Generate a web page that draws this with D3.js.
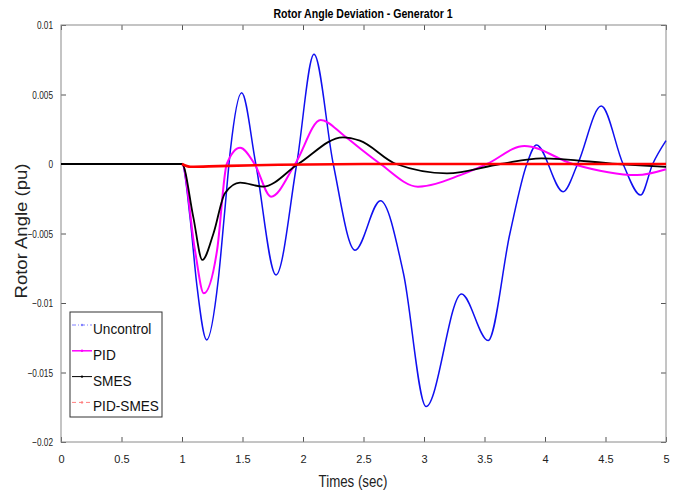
<!DOCTYPE html>
<html>
<head>
<meta charset="utf-8">
<script src="https://cdn.jsdelivr.net/npm/d3@7"></script>
<style>
  body { margin: 0; background: #fff; }
  text { font-family: "Liberation Sans", Arial, sans-serif; }
</style>
</head>
<body>
<div id="chart-area"></div>
<script>
// Rotor angle deviation, generator 1
const seriesNames = ["Uncontrol", "PID", "SMES", "PID-SMES"];

const uncontrolT = [0, 1.0, 1.066, 1.121, 1.204, 1.30, 1.35, 1.40, 1.493, 1.61, 1.777, 1.948, 2.091, 2.25, 2.43, 2.64, 2.83, 3.017, 3.31, 3.53, 3.71, 3.85, 3.93, 4.15, 4.27, 4.465, 4.645, 4.79, 4.89, 5.0];
const uncontrolV = [0, 0, -0.0038, -0.00858, -0.01266, -0.0083, -0.0037, 0.0010, 0.00513, 0, -0.00798, 0, 0.00789, 0, -0.0062, -0.00264, -0.00786, -0.01745, -0.00935, -0.0127, -0.005, 0, 0.00137, -0.00199, 0, 0.00417, 0, -0.00223, 0, 0.00168];

const pidT = [0, 1.0, 1.107, 1.18, 1.29, 1.37, 1.48, 1.60, 1.736, 1.935, 2.146, 2.333, 2.47, 2.64, 2.95, 3.3, 3.52, 3.83, 4.23, 4.76, 5.0];
const pidV = [0, 0, -0.0062, -0.0093, -0.0062, 0, 0.00117, 0, -0.00235, 0, 0.00316, 0.00209, 0.00113, 0, -0.00163, -0.0008, 0, 0.0013, 0, -0.0008, -0.00038];

const smesT = [0, 1.0, 1.093, 1.168, 1.26, 1.355, 1.48, 1.67, 1.96, 2.33, 2.47, 2.77, 3.19, 3.63, 3.97, 4.6, 5.0];
const smesV = [0, 0, -0.0038, -0.0069, -0.005, -0.0021, -0.00134, -0.00163, 0, 0.00192, 0.00168, 0, -0.00067, 0, 0.00041, 0, -0.0002];

const pidSmesT = [1.0, 1.07, 1.3, 1.8, 2.5, 5.0];
const pidSmesV = [0, -0.0002, -0.00015, -0.00005, 0, 0];

const xTicks = [0, 0.5, 1, 1.5, 2, 2.5, 3, 3.5, 4, 4.5, 5];
const yTicks = [-0.02, -0.015, -0.01, -0.005, 0, 0.005, 0.01];

const margin = {left: 61, right: 15, top: 25, bottom: 52};
const width = 681 - margin.left - margin.right;
const height = 494 - margin.top - margin.bottom;

const x = d3.scaleLinear().domain([0, 5]).range([0, width]);
const y = d3.scaleLinear().domain([-0.02, 0.01]).range([height, 0]);

const colors = ["#1010f0", "#ff00ff", "#000000", "#ff0000"];
const widths = [1.5, 2, 1.8, 2.6];

// squeeze text horizontally like the narrow fonts in the original
function squeeze(sel, k) {
    sel.each(function () {
        const w = this.getComputedTextLength();
        d3.select(this).attr("textLength", w * k).attr("lengthAdjust", "spacingAndGlyphs");
    });
}

const svg = d3.select("#chart-area")
    .append("svg")
        .attr("width", 681)
        .attr("height", 494);

const g = svg.append("g")
    .attr("transform", "translate(" + margin.left + ", " + margin.top + ")");

// axes
const bottom = g.append("g")
    .attr("transform", "translate(0, " + height + ")")
    .call(d3.axisBottom(x).tickValues(xTicks).tickSizeInner(-5).tickSizeOuter(0).tickPadding(13).tickFormat(d3.format("")));
const left = g.append("g")
    .call(d3.axisLeft(y).tickValues(yTicks).tickSizeInner(-5).tickSizeOuter(0).tickPadding(8).tickFormat((d) => d === 0 ? "0" : d3.format("")(+d.toFixed(3))));
g.append("g")
    .call(d3.axisTop(x).tickValues(xTicks).tickSizeInner(-5).tickSizeOuter(0).tickFormat(""));
g.append("g")
    .attr("transform", "translate(" + width + ", 0)")
    .call(d3.axisRight(y).tickValues(yTicks).tickSizeInner(-5).tickSizeOuter(0).tickFormat(""));

g.selectAll(".domain").remove();
g.selectAll(".tick line").attr("stroke", "#555");
g.selectAll(".tick text").attr("font-size", "11px").attr("fill", "#222")
    .style("font-family", "'Liberation Sans', Arial, sans-serif");
squeeze(left.selectAll(".tick text"), 0.75);

g.append("rect")
    .attr("width", width)
    .attr("height", height)
    .attr("fill", "none")
    .attr("stroke", "#8a8a8a")
    .attr("stroke-width", 1);

// curves
const line = d3.line()
    .x((d) => x(d[0]))
    .y((d) => y(d[1]))
    .curve(d3.curveMonotoneX);

const series = [
    d3.zip(uncontrolT, uncontrolV),
    d3.zip(pidT, pidV),
    d3.zip(smesT, smesV),
    d3.zip(pidSmesT, pidSmesV)
];

g.selectAll("path.series")
    .data(series)
    .enter().append("path")
        .attr("class", "series")
        .attr("d", line)
        .attr("fill", "none")
        .attr("stroke", (d, i) => colors[i])
        .attr("stroke-width", (d, i) => widths[i]);

// titles
const title = svg.append("text")
    .attr("x", 363)
    .attr("y", 18)
    .attr("text-anchor", "middle")
    .attr("font-size", "12px")
    .attr("font-weight", "bold")
    .text("Rotor Angle Deviation - Generator 1");
squeeze(title, 0.88);

const xLabel = svg.append("text")
    .attr("x", 353)
    .attr("y", 487)
    .attr("text-anchor", "middle")
    .attr("font-size", "16px")
    .attr("fill", "#222")
    .text("Times (sec)");
squeeze(xLabel, 0.83);

svg.append("text")
    .attr("transform", "translate(27, 231) rotate(-90)")
    .attr("text-anchor", "middle")
    .attr("font-size", "16px")
    .attr("fill", "#222")
    .attr("textLength", 135)
    .attr("lengthAdjust", "spacingAndGlyphs")
    .text("Rotor Angle (pu)");

// legend
const legend = svg.append("g").attr("transform", "translate(70, 312)");
legend.append("rect")
    .attr("width", 92)
    .attr("height", 105)
    .attr("fill", "#fff")
    .attr("stroke", "#333")
    .attr("stroke-width", 1);

const dashes = ["4,2,1,2", null, null, "4,3"];
const legendColors = ["#8080ff", "#ff00ff", "#000000", "#ff8080"];
const items = legend.selectAll("g.item")
    .data(seriesNames)
    .enter().append("g")
        .attr("class", "item")
        .attr("transform", (d, i) => "translate(0, " + (13 + i * 25.8) + ")");
items.append("line")
    .attr("x1", 2).attr("x2", 22)
    .attr("stroke", (d, i) => legendColors[i])
    .attr("stroke-width", (d, i) => i === 1 ? 1.5 : 1)
    .attr("stroke-dasharray", (d, i) => dashes[i]);
items.append("circle")
    .attr("cx", 12)
    .attr("r", 1.2)
    .attr("fill", (d, i) => legendColors[i]);
const itemText = items.append("text")
    .attr("x", 23)
    .attr("y", 9)
    .attr("font-size", "15.5px")
    .attr("fill", "#111")
    .text((d) => d);
squeeze(itemText, 0.88);
</script>
</body>
</html>
